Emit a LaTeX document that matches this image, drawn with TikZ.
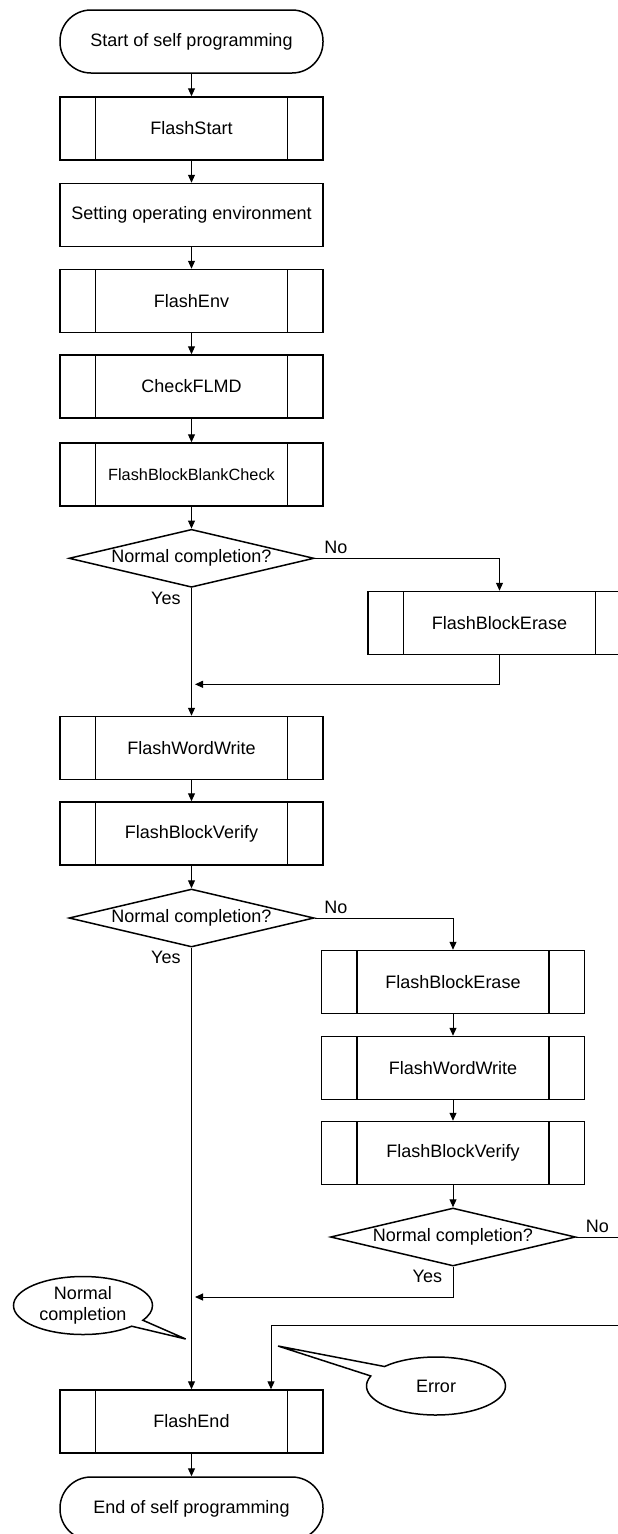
\documentclass[tikz,border=0pt]{standalone}
\usepackage{fontspec}
\setmainfont{Liberation Sans}
\usepackage{tikz}
\usetikzlibrary{arrows.meta,shapes.geometric,shapes.callouts}

\begin{document}
\begin{tikzpicture}[x=1pt,y=-1pt,line width=1pt,>={Triangle[length=8pt,width=7pt]},
  font=\fontsize{18}{21}\selectfont,
  term/.style={draw,line width=1.5pt,rounded corners=31pt,minimum width=263pt,minimum height=63pt},
  proc/.style={draw,line width=1.5pt,minimum width=263pt,minimum height=63pt},
  sub/.style={proc,path picture={
      \draw[line width=1.5pt] ([xshift=35.5pt]path picture bounding box.north west) -- ([xshift=35.5pt]path picture bounding box.south west)
        ([xshift=-35.5pt]path picture bounding box.north east) -- ([xshift=-35.5pt]path picture bounding box.south east);}},
  dec/.style={diamond,draw,line width=1.5pt,aspect=4.2,inner sep=0pt,minimum width=245pt,minimum height=58pt},
  note/.style={ellipse callout,draw,line width=1.5pt,inner sep=0pt,minimum width=139pt,minimum height=58pt,align=center},
  lbl/.style={inner sep=0pt}]
  \useasboundingbox (0,0) rectangle (618,1534);
  \clip (0,0) rectangle (618,1534);
  % main column
  \node[term] (start) at (191.5,41.5) {Start of self programming};
  \node[sub] (fstart) at (191.5,128.5) {FlashStart};
  \node[proc] (setenv) at (191.5,215) {Setting operating environment};
  \node[sub] (fenv) at (191.5,301) {FlashEnv};
  \node[sub] (chkflmd) at (191.5,386.5) {CheckFLMD};
  \node[sub,font=\fontsize{16.3}{19}\selectfont] (blank) at (191.5,474.5) {FlashBlockBlankCheck};
  \node[dec] (d1) at (191.5,558.3) {Normal completion?};
  \node[sub] (write1) at (191.5,748) {FlashWordWrite};
  \node[sub] (verify1) at (191.5,833.5) {FlashBlockVerify};
  \node[dec] (d2) at (191.5,918) {Normal completion?};
  \node[sub] (fend) at (191.5,1421.5) {FlashEnd};
  \node[term] (stop) at (191.5,1508.5) {End of self programming};
  % retry branches
  \node[sub] (erase1) at (499.5,623) {FlashBlockErase};
  \node[sub] (erase2) at (453,982) {FlashBlockErase};
  \node[sub] (write2) at (453,1068) {FlashWordWrite};
  \node[sub] (verify2) at (453,1153) {FlashBlockVerify};
  \node[dec] (d3) at (453,1237) {Normal completion?};
  \coordinate (j1) at (195,684.3);
  \coordinate (j3) at (195,1297);
  \coordinate (noout) at (618,1237);
  \coordinate (errin) at (618,1325);
  % flow
  \draw[->] (start) -- (fstart);
  \draw[->] (fstart) -- (setenv);
  \draw[->] (setenv) -- (fenv);
  \draw[->] (fenv) -- (chkflmd);
  \draw[->] (chkflmd) -- (blank);
  \draw[->] (blank) -- (d1);
  \draw[->] (d1.south) -- (write1.north);
  \draw[->] (d1.east) -| (erase1.north);
  \draw[->] (erase1.south) |- (j1);
  \draw[->] (write1) -- (verify1);
  \draw[->] (verify1) -- (d2);
  \draw[->] (d2.south) -- (fend.north);
  \draw[->] (d2.east) -| (erase2.north);
  \draw[->] (erase2) -- (write2);
  \draw[->] (write2) -- (verify2);
  \draw[->] (verify2) -- (d3);
  \draw[->] (d3.south) |- (j3);
  \draw (d3.east) -- (noout);
  \draw[->] (errin) -| ([xshift=79.5pt]fend.north);
  \draw[->] (fend) -- (stop);
  % labels
  \node[lbl,anchor=west] (no1) at ([xshift=9pt,yshift=11pt]d1.east) {No};
  \node[lbl,anchor=east] (yes1) at ([xshift=-10.5pt,yshift=-10pt]d1.south) {Yes};
  \node[lbl,anchor=west] (no2) at ([xshift=9pt,yshift=11pt]d2.east) {No};
  \node[lbl,anchor=east] (yes2) at ([xshift=-10.5pt,yshift=-10pt]d2.south) {Yes};
  \node[lbl,anchor=west] (no3) at ([xshift=9pt,yshift=11pt]d3.east) {No};
  \node[lbl,anchor=east] (yes3) at ([xshift=-10.5pt,yshift=-10pt]d3.south) {Yes};
  % callouts
  \node[note,callout absolute pointer={(185.7,1339)}] (normal) at (83,1305.5) {Normal\\completion};
  \node[note,callout absolute pointer={(278,1346)},callout pointer arc=22] (error) at (436,1386) {Error};
\end{tikzpicture}
\end{document}
